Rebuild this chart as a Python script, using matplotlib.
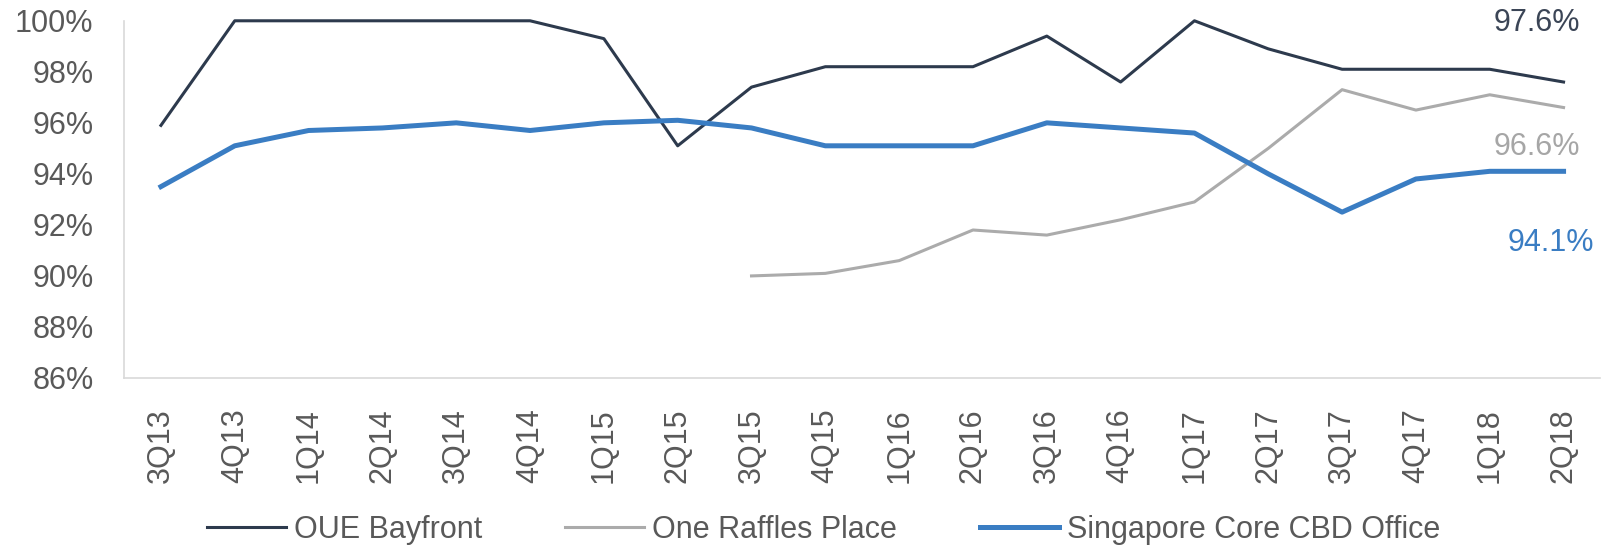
import matplotlib.pyplot as plt
import numpy as np

plt.rcParams['font.family'] = ['Liberation Sans', 'DejaVu Sans']

quarters = ['3Q13', '4Q13', '1Q14', '2Q14', '3Q14', '4Q14', '1Q15', '2Q15', '3Q15', '4Q15',
            '1Q16', '2Q16', '3Q16', '4Q16', '1Q17', '2Q17', '3Q17', '4Q17', '1Q18', '2Q18']
oue_bayfront = [95.9, 100, 100, 100, 100, 100, 99.3, 95.1, 97.4, 98.2,
                98.2, 98.2, 99.4, 97.6, 100, 98.9, 98.1, 98.1, 98.1, 97.6]
one_raffles = [None, None, None, None, None, None, None, None, 90.0, 90.1,
               90.6, 91.8, 91.6, 92.2, 92.9, 95.0, 97.3, 96.5, 97.1, 96.6]
core_cbd = [93.5, 95.1, 95.7, 95.8, 96.0, 95.7, 96.0, 96.1, 95.8, 95.1,
            95.1, 95.1, 96.0, 95.8, 95.6, 94.0, 92.5, 93.8, 94.1, 94.1]

c_oue = '#2D3A4D'
c_orp = '#ABABAB'
c_cbd = '#3A7DC3'
c_text = '#595959'
fs = 22

x = np.arange(len(quarters))
orp = np.array([np.nan if v is None else v for v in one_raffles])

fig = plt.figure(figsize=(16.15, 5.47), dpi=100)
ax = fig.add_axes([0.0768, 0.309, 0.9142, 0.653])

ax.plot(x, oue_bayfront, color=c_oue, lw=2.2, label='OUE Bayfront', clip_on=False)
ax.plot(x, orp, color=c_orp, lw=2.2, label='One Raffles Place', clip_on=False)
ax.plot(x, core_cbd, color=c_cbd, lw=3.6, label='Singapore Core CBD Office', clip_on=False)

ax.set_xlim(-0.5, len(quarters) - 0.5)
ax.set_ylim(86, 100)
ax.set_yticks(np.arange(86, 101, 2))
ax.set_yticklabels([f'{v}%' for v in range(86, 101, 2)])
ax.set_xticks(x)
ax.set_xticklabels(quarters, rotation=90)
ax.tick_params(axis='both', length=0, labelsize=fs, labelcolor=c_text)
ax.tick_params(axis='y', pad=22)
ax.tick_params(axis='x', pad=22)

for s in ['top', 'right']:
    ax.spines[s].set_visible(False)
for s in ['left', 'bottom']:
    ax.spines[s].set_color('#D9D9D9')
    ax.spines[s].set_linewidth(1.2)

ax.text(19.23, 99.9, '97.6%', color='#3B4556', fontsize=fs, ha='right', va='center')
ax.text(19.23, 95.04, '96.6%', color='#A6A6A6', fontsize=fs, ha='right', va='center')
ax.text(19.42, 91.28, '94.1%', color=c_cbd, fontsize=fs, ha='right', va='center')

fig.legend(loc='center', bbox_to_anchor=(0.51, 0.031), ncol=3, frameon=False,
           fontsize=fs, handlelength=2.6, handletextpad=0.26, columnspacing=2.7,
           labelcolor=c_text)

fig.savefig('out.png', dpi=100)
